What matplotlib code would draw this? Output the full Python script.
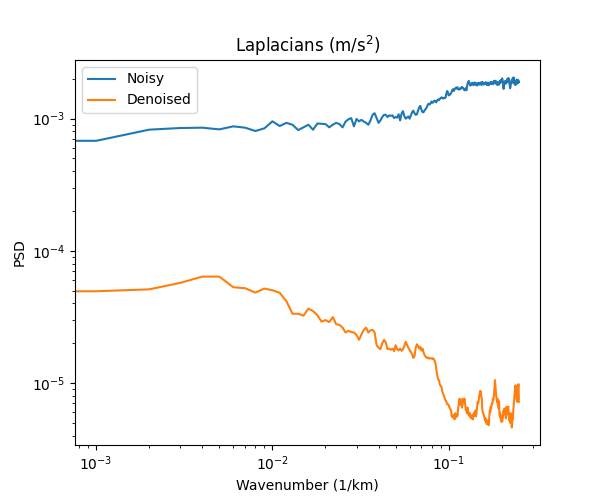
import numpy as np
import matplotlib
matplotlib.use("Agg")
import matplotlib.pyplot as plt

# wavenumber grid: rfft frequencies of a 500-sample track with 2 km spacing
wavenumber = np.fft.rfftfreq(500, d=2.0)  # 0, 0.001, ..., 0.25 (1/km)

noisy_e3 = [
    0.68, 0.68, 0.826, 0.85, 0.855, 0.83, 0.875, 0.855, 0.807, 0.845,  # k0-9
    0.955, 0.88, 0.93, 0.90, 0.82, 0.86, 0.90, 0.825, 0.92, 0.915,      # k10-19
    0.91, 0.86, 0.90, 0.93, 0.91, 0.86, 0.95, 0.99, 1.01, 0.875,        # k20-29
    0.995, 0.955, 0.98, 0.95, 0.93, 0.90, 0.97, 1.07, 1.10, 1.01,       # k30-39
    0.93, 0.97, 1.03, 1.07, 1.07, 1.03, 1.06, 1.05, 1.06, 1.01,         # k40-49
    1.03, 1.02, 1.08, 0.97, 1.09, 1.14, 1.05, 1.00, 1.02, 1.04,         # k50-59
    1.00, 1.06, 1.12, 1.15, 1.10, 1.07, 1.08, 1.15, 1.22, 1.25,         # k60-69
    1.17, 1.12, 1.12, 1.16, 1.18, 1.22, 1.27, 1.30, 1.28, 1.31,         # k70-79
    1.35, 1.32, 1.34, 1.37, 1.36, 1.33, 1.37, 1.40, 1.38, 1.41,         # k80-89
    1.43, 1.45, 1.44, 1.42, 1.44, 1.43, 1.45, 1.55, 1.62, 1.58,         # k90-99
    1.50, 1.51, 1.53, 1.56, 1.60, 1.66, 1.67, 1.62, 1.67, 1.70,         # k100-109
    1.72, 1.69, 1.73, 1.68, 1.66, 1.67, 1.70, 1.68, 1.72, 1.74,         # k110-119
    1.72, 1.70, 1.66, 1.64, 1.68, 1.70, 1.64, 1.75, 1.85, 1.90,         # k120-129
    1.93, 1.86, 1.80, 1.78, 1.84, 1.82, 1.87, 1.84, 1.79, 1.85,         # k130-139
    1.88, 1.83, 1.80, 1.86, 1.84, 1.78, 1.83, 1.87, 1.85, 1.81,         # k140-149
    1.86, 1.84, 1.88, 1.80, 1.85, 1.90, 1.83, 1.81, 1.87, 1.84,         # k150-159
    1.86, 1.85, 1.89, 1.82, 1.86, 1.80, 1.84, 1.88, 1.83, 1.79,         # k160-169
    1.86, 1.83, 1.88, 1.85, 1.90, 1.84, 1.87, 1.86, 1.82, 1.88,         # k170-179
    1.92, 1.87, 1.94, 1.85, 1.90, 1.93, 1.86, 1.82, 1.88, 1.80,         # k180-189
    1.84, 1.89, 1.83, 1.81, 1.87, 1.92, 1.86, 1.95, 1.90, 1.97,         # k190-199
    1.93, 2.02, 1.96, 1.88, 1.72, 1.68, 1.80, 1.90, 1.86, 1.93,         # k200-209
    1.88, 1.84, 1.90, 1.95, 1.88, 2.00, 1.93, 1.97, 2.03, 1.92,         # k210-219
    1.99, 1.85, 1.78, 1.70, 1.74, 1.82, 1.90, 1.86, 1.95, 1.88,         # k220-229
    1.92, 2.04, 1.93, 1.98, 2.05, 1.87, 1.95, 1.82, 1.90, 1.80,         # k230-239
    1.86, 1.93, 1.84, 1.98, 1.88, 1.92, 1.85, 1.96, 1.90, 1.94,         # k240-249
    1.89,                                                               # k250
]

denoised_e6 = [
    49.4, 49.4, 51.1, 57.2, 63.8, 63.8, 53.0, 52.1, 48.3, 51.8,         # k0-9
    50.3, 48.1, 41.6, 33.4, 33.4, 32.3, 36.5, 35.0, 32.5, 29.1,         # k10-19
    29.9, 28.9, 31.5, 27.8, 27.5, 26.2, 24.1, 24.8, 24.3, 24.1,         # k20-29
    23.1, 21.2, 23.3, 25.2, 26.2, 24.1, 25.0, 25.2, 24.1, 19.3,         # k30-39
    18.5, 18.0, 20.0, 21.2, 20.2, 18.0, 18.2, 17.8, 18.2, 17.4,         # k40-49
    19.3, 18.0, 17.6, 18.2, 17.5, 18.0, 19.0, 20.5, 19.5, 18.5,         # k50-59
    17.8, 17.2, 16.5, 15.5, 16.0, 18.5, 19.6, 19.0, 18.2, 18.8,         # k60-69
    17.6, 18.2, 17.0, 16.2, 15.8, 15.5, 15.6, 15.3, 15.4, 15.3,         # k70-79
    15.4, 15.2, 15.3, 14.8, 14.2, 12.8, 11.5, 10.7, 10.5, 9.8,          # k80-89
    9.5, 9.3, 8.6, 8.2, 8.0, 7.6, 7.36, 7.2, 6.9, 6.9,                  # k90-99
    6.8, 6.5, 6.4, 6.2, 5.6, 5.5, 5.7, 5.7, 5.3, 5.9,                   # k100-109
    5.5, 5.8, 5.6, 6.3, 7.0, 7.6, 7.4, 6.8, 7.5, 6.5,                   # k110-119
    6.9, 7.6, 7.3, 7.6, 6.8, 6.2, 6.3, 5.9, 6.5, 5.8,                   # k120-129
    6.0, 5.6, 5.9, 5.5, 5.4, 5.5, 5.7, 5.3, 5.8, 5.7,                   # k130-139
    6.0, 5.6, 6.2, 5.6, 6.1, 6.6, 7.2, 7.0, 7.4, 8.0,                   # k140-149
    8.3, 8.7, 8.6, 7.9, 7.6, 6.4, 6.0, 5.9, 5.7, 5.6,                   # k150-159
    5.3, 5.4, 5.1, 5.3, 4.9, 5.0, 4.9, 5.2, 4.8, 4.8,                   # k160-169
    5.6, 6.2, 6.0, 6.6, 6.4, 6.8, 7.0, 7.0, 7.6, 7.4,                   # k170-179
    7.8, 8.4, 9.4, 10.5, 9.6, 8.6, 7.9, 7.6, 7.2, 7.6,                  # k180-189
    6.8, 7.4, 6.4, 7.2, 5.8, 5.6, 5.9, 5.4, 5.6, 5.1,                   # k190-199
    5.4, 5.1, 5.3, 5.6, 5.9, 6.2, 5.8, 6.4, 6.2, 6.2,                   # k200-209
    5.7, 5.4, 5.6, 6.6, 6.2, 5.8, 6.3, 6.6, 6.6, 5.8,                   # k210-219
    5.6, 5.2, 5.4, 5.0, 5.6, 5.9, 5.2, 4.9, 4.6, 5.0,                   # k220-229
    5.7, 5.3, 6.0, 6.4, 7.0, 7.4, 8.0, 8.6, 9.0, 9.6,                   # k230-239
    9.4, 8.8, 8.0, 7.6, 7.2, 9.0, 9.4, 9.0, 9.7, 9.8,                   # k240-249
    7.2,                                                                # k250
]

series_labels = ["Noisy", "Denoised"]

noisy = np.array(noisy_e3) * 1e-3
denoised = np.array(denoised_e6) * 1e-6
assert len(noisy) == len(wavenumber) == len(denoised)

fig, ax = plt.subplots(figsize=(6, 5), dpi=100)
ax.loglog(wavenumber, noisy, label=series_labels[0])
ax.loglog(wavenumber, denoised, label=series_labels[1])
ax.set_title("Laplacians (m/s$^2$)")
ax.set_xlabel("Wavenumber (1/km)")
ax.set_ylabel("PSD")
ax.legend(loc="upper left")
fig.savefig("out.png", dpi=100)
